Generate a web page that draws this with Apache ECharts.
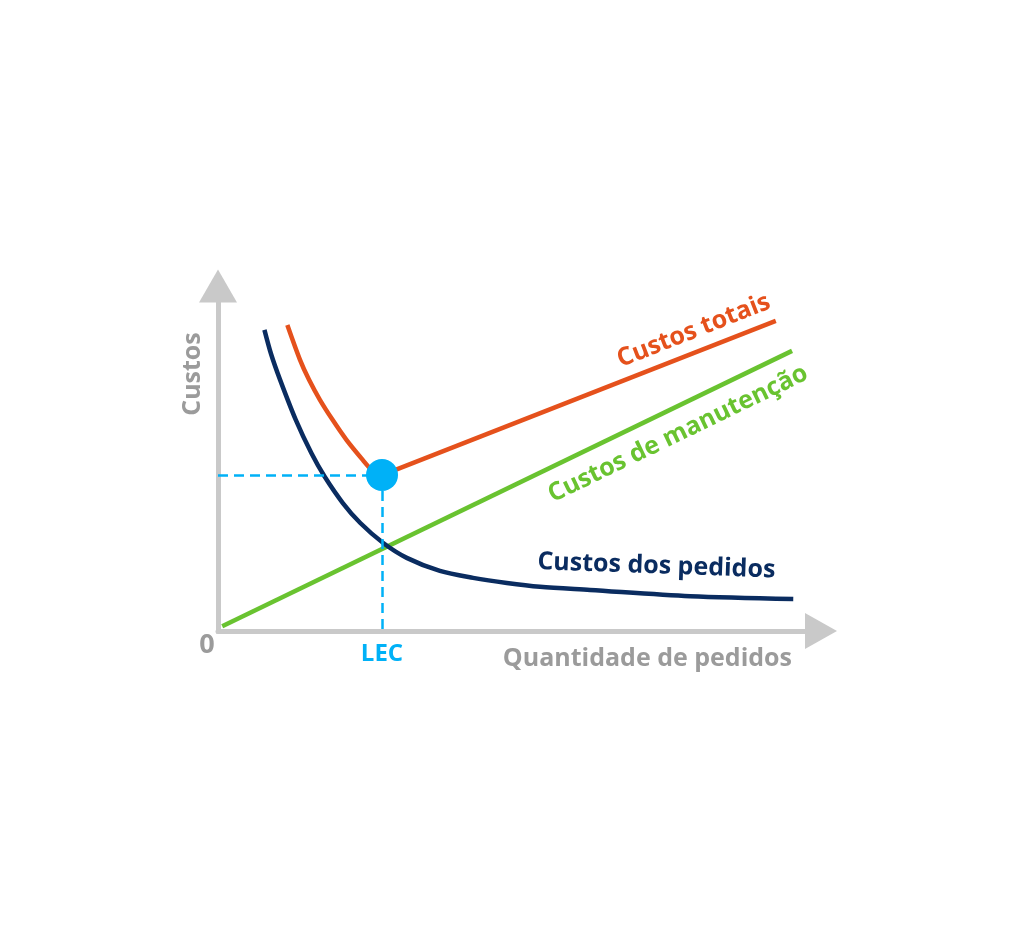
<!DOCTYPE html>
<html>
<head>
<meta charset="utf-8">
<script src="https://cdn.jsdelivr.net/npm/echarts@6/dist/echarts.min.js"></script>
<style>
  html, body { margin: 0; padding: 0; background: #fff; }
  #main { width: 1024px; height: 952px; }
</style>
</head>
<body>
<div id="main"></div>
<script>
// curves, x and y on a 0..100 scale
var totalCurve = [[11.5, 88.7], [13.6, 78.6], [15.1, 72.8], [16.9, 67.0], [19.0, 61.2], [21.3, 55.4],
    [24.0, 49.6], [25.5, 46.7], [27.2, 45.2]];
var totalLine = [[27.2, 45.2], [92.5, 89.9]];
var holdingLine = [[0.7, 1.4], [95.2, 81.2]];
var orderCurve = [[7.7, 87.3], [8.8, 80.3], [10.3, 72.8], [12.9, 61.2], [15.5, 51.5], [17.7, 44.7],
    [20.7, 37.1], [23.6, 31.3], [27.4, 25.5], [31.3, 21.2], [36.8, 17.4], [42.3, 15.4], [47.9, 13.9],
    [53.4, 12.8], [61.7, 11.9], [78.3, 10.1], [95.4, 9.3]];
var lec = [27.2, 45.2];
var tickValues = [0, lec[0]];
var tickNames = ['0', 'LEC'];

var colors = {
    total: '#e5511c',
    holding: '#69c330',
    order: '#0a2c60',
    lec: '#00b1f7',
    axis: '#c9c9c9',
    text: '#9b9b9b'
};
var font = '"Open Sans", sans-serif';

var dom = document.getElementById('main');
var chart = echarts.init(dom, null, { renderer: 'canvas' });

// where the curve names sit (data coords) and their tilt
var curveLabels = [
    { value: [78.9, 87.0], text: 'Custos totais', color: colors.total, rotate: 21.5 },
    { value: [76.3, 57.1], text: 'Custos de manutenção', color: colors.holding, rotate: 25.8 },
    { value: [72.7, 18.8], text: 'Custos dos pedidos', color: colors.order, rotate: -2 }
];

var option = {
    animation: false,
    grid: { left: 218, right: 203, top: 286, bottom: 321 },
    xAxis: {
        type: 'value',
        min: 0,
        max: 100,
        splitLine: { show: false },
        axisTick: { show: false },
        axisLine: {
            symbol: ['none', 'triangle'],
            symbolSize: [36, 32],
            lineStyle: { color: colors.axis, width: 5 }
        },
        axisLabel: {
            customValues: tickValues,
            margin: 1,
            formatter: function (v) {
                return v === 0 ? '{z|' + tickNames[0] + '}' : '{l|' + tickNames[1] + '}';
            },
            rich: {
                z: { fontFamily: font, fontWeight: 'bold', fontSize: 27, color: colors.text, padding: [0, 22, 0, 0] },
                l: { fontFamily: font, fontWeight: 'bold', fontSize: 24, color: colors.lec, padding: [10, 0, 0, 0] }
            }
        }
    },
    yAxis: {
        type: 'value',
        min: 0,
        max: 100,
        splitLine: { show: false },
        axisTick: { show: false },
        axisLabel: { show: false },
        axisLine: {
            symbol: ['none', 'triangle'],
            symbolSize: [38, 33],
            lineStyle: { color: colors.axis, width: 5, cap: 'square' }
        }
    },
    graphic: [
        {
            type: 'text', x: 193, y: 374, rotation: Math.PI / 2,
            style: { text: 'Custos', fill: colors.text, font: 'bold 25px ' + font, align: 'center', verticalAlign: 'middle' }
        },
        {
            type: 'text', x: 792, y: 659,
            style: { text: 'Quantidade de pedidos', fill: colors.text, font: 'bold 25px ' + font, align: 'right', verticalAlign: 'middle' }
        }
    ],
    series: [
        {
            type: 'line', data: holdingLine, showSymbol: false, z: 3,
            lineStyle: { color: colors.holding, width: 4.5 }
        },
        {
            type: 'line', data: orderCurve, smooth: 0.3, showSymbol: false, z: 4,
            lineStyle: { color: colors.order, width: 4.5 }
        },
        {
            type: 'line', data: totalCurve, smooth: 0.3, showSymbol: false, z: 4,
            lineStyle: { color: colors.total, width: 4.5 }
        },
        {
            type: 'line', data: totalLine, showSymbol: false, z: 4,
            lineStyle: { color: colors.total, width: 4.5 }
        },
        {
            type: 'scatter', data: [lec], symbolSize: 32, z: 6,
            itemStyle: { color: colors.lec, opacity: 1 },
            markLine: {
                silent: true,
                symbol: 'none',
                label: { show: false },
                lineStyle: { color: colors.lec, width: 2.5, type: [10, 6] },
                data: [
                    [{ coord: [0, lec[1]] }, { coord: [lec[0], lec[1]] }],
                    [{ coord: [lec[0], lec[1]] }, { coord: [lec[0], 0] }]
                ]
            }
        },
        {
            type: 'scatter', symbolSize: 0, z: 7,
            itemStyle: { opacity: 1 },
            data: curveLabels.map(function (d) {
                return {
                    value: d.value,
                    label: {
                        show: true, position: 'inside', formatter: d.text, rotate: d.rotate,
                        color: d.color, opacity: 1, fontFamily: font, fontWeight: 'bold', fontSize: 25
                    }
                };
            })
        }
    ]
};

chart.setOption(option);
</script>
</body>
</html>
